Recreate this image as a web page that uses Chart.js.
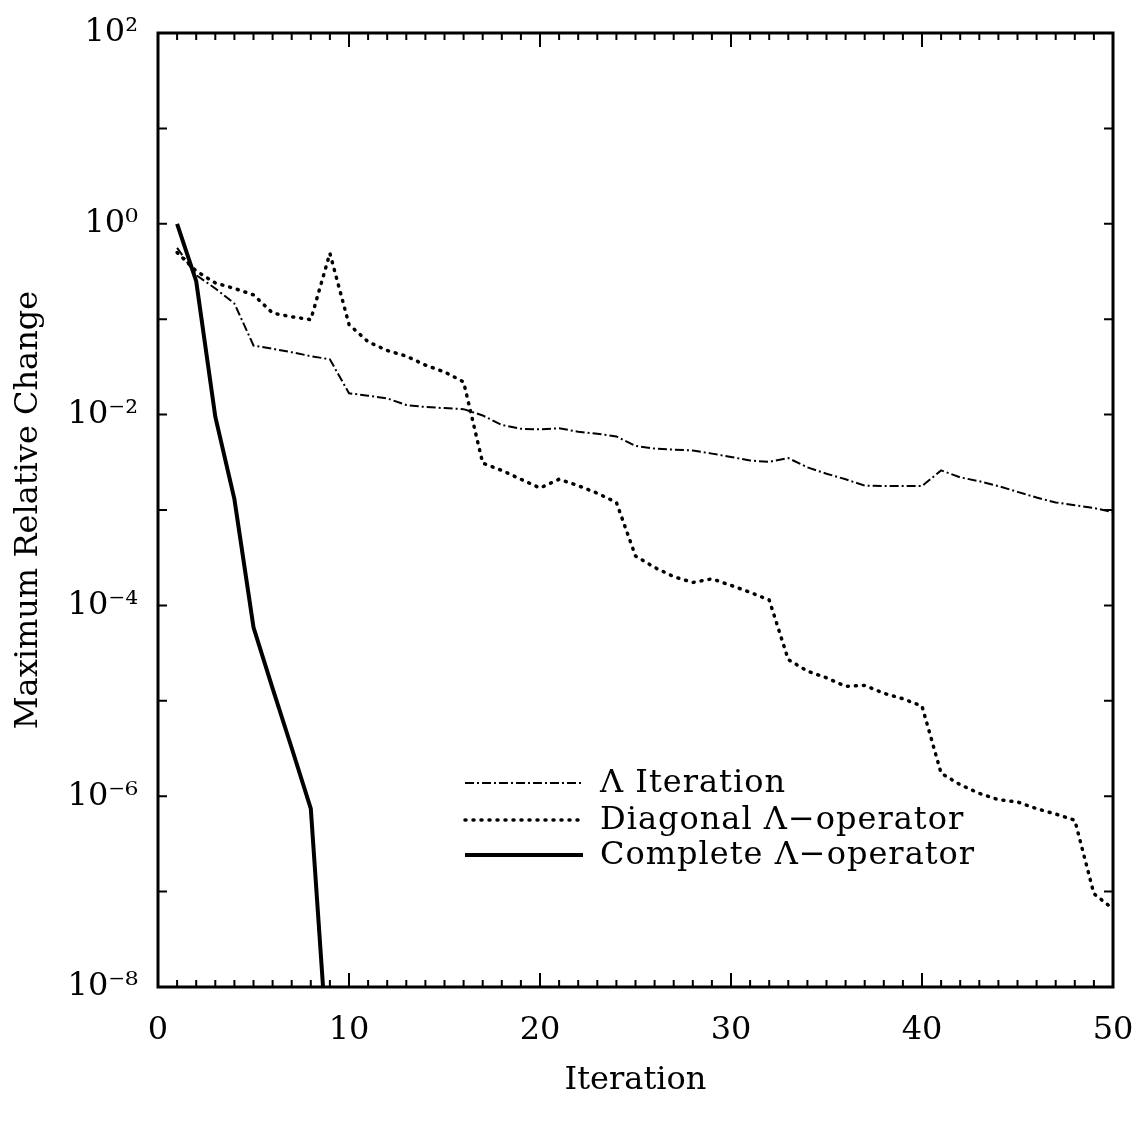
<!DOCTYPE html>
<html>
<head>
<meta charset="utf-8">
<script src="https://cdn.jsdelivr.net/npm/chart.js@4.4.1/dist/chart.umd.min.js"></script>
<style>
  html, body { margin: 0; padding: 0; background: #fff; }
  #wrap { width: 1139px; height: 1125px; position: relative; }
</style>
</head>
<body>
<div id="wrap"><canvas id="convChart"></canvas></div>
<script>
const iterations = [1, 2, 3, 4, 5, 6, 7, 8, 9, 10, 11, 12, 13, 14, 15, 16, 17, 18, 19, 20,
  21, 22, 23, 24, 25, 26, 27, 28, 29, 30, 31, 32, 33, 34, 35, 36, 37, 38, 39, 40,
  41, 42, 43, 44, 45, 46, 47, 48, 49, 50];

const lambdaIteration = [0.56, 0.29, 0.21, 0.146, 0.053, 0.049, 0.045, 0.041, 0.038, 0.0167,
  0.0158, 0.0148, 0.0126, 0.012, 0.0117, 0.0114, 0.0098, 0.0078, 0.0071, 0.0070,
  0.0072, 0.0066, 0.0063, 0.0059, 0.0047, 0.0044, 0.0043, 0.0042, 0.0039, 0.0036,
  0.0033, 0.0032, 0.0035, 0.0028, 0.0024, 0.0021, 0.0018, 0.00178, 0.00178, 0.00178,
  0.0026, 0.0022, 0.0020, 0.00178, 0.00155, 0.00135, 0.0012, 0.00112, 0.00105, 0.00095];

const diagonalOperator = [0.5, 0.32, 0.24, 0.21, 0.18, 0.116, 0.106, 0.099, 0.49, 0.088,
  0.058, 0.047, 0.041, 0.033, 0.028, 0.022, 0.0031, 0.0026, 0.0021, 0.0017,
  0.0021, 0.0018, 0.0015, 0.0012, 3.3e-4, 2.5e-4, 2.0e-4, 1.74e-4, 1.9e-4, 1.62e-4,
  1.37e-4, 1.14e-4, 2.7e-5, 2.05e-5, 1.74e-5, 1.42e-5, 1.45e-5, 1.2e-5, 1.05e-5, 8.8e-6,
  1.74e-6, 1.32e-6, 1.07e-6, 9.2e-7, 8.7e-7, 7.4e-7, 6.5e-7, 5.6e-7, 9.5e-8, 6.6e-8];

const completeIterations = [1, 2, 3, 4, 5, 6, 7, 8, 9];
const completeOperator = [1.0, 0.25, 0.0095, 0.0013, 5.9e-5, 1.35e-5, 3.2e-6, 7.4e-7, 9e-10];

const yTickValues = [1e-8, 1e-7, 1e-6, 1e-5, 1e-4, 1e-3, 1e-2, 1e-1, 1e0, 1e1, 1e2];
const yTickLabels = ['10⁻⁸', '', '10⁻⁶', '', '10⁻⁴', '', '10⁻²', '', '10⁰', '', '10²'];
const xTickLabels = [0, 10, 20, 30, 40, 50];

const serif = '"DejaVu Serif", "Liberation Serif", serif';

function pairs(xs, ys) {
  return xs.map((x, i) => ({ x: x, y: ys[i] }));
}

const frameAndLegend = {
  id: 'frameAndLegend',
  afterDraw(chart) {
    const ctx = chart.ctx;
    const a = chart.chartArea;
    const x = chart.scales.x;
    const y = chart.scales.y;
    ctx.save();
    ctx.strokeStyle = '#000';
    ctx.lineWidth = 2;
    ctx.setLineDash([]);

    // inward ticks on x (bottom + top)
    for (let v = 1; v < 50; v++) {
      const px = x.getPixelForValue(v);
      const len = v % 10 === 0 ? 14 : 7;
      ctx.beginPath();
      ctx.moveTo(px, a.bottom); ctx.lineTo(px, a.bottom - len);
      ctx.moveTo(px, a.top); ctx.lineTo(px, a.top + len);
      ctx.stroke();
    }
    // inward ticks on y (left + right)
    yTickValues.forEach(v => {
      const py = y.getPixelForValue(v);
      ctx.beginPath();
      ctx.moveTo(a.left, py); ctx.lineTo(a.left + 9, py);
      ctx.moveTo(a.right, py); ctx.lineTo(a.right - 9, py);
      ctx.stroke();
    });

    ctx.lineWidth = 3;
    ctx.strokeRect(a.left, a.top, a.right - a.left, a.bottom - a.top);

    // legend inside the plot
    const rows = [750, 787, 822];
    ctx.font = '32px ' + serif;
    ctx.fillStyle = '#000';
    ctx.textBaseline = 'middle';
    ctx.letterSpacing = '1px';
    chart.data.datasets.forEach((ds, i) => {
      const ly = a.top + rows[i];
      ctx.lineWidth = ds.borderWidth;
      ctx.lineCap = ds.borderCapStyle || 'butt';
      ctx.setLineDash(ds.borderDash || []);
      ctx.beginPath();
      ctx.moveTo(a.left + 307, ly);
      ctx.lineTo(a.left + 425, ly);
      ctx.stroke();
      ctx.setLineDash([]);
      ctx.fillText(ds.label, a.left + 442, ly + 1);
    });
    ctx.restore();
  }
};

new Chart(document.getElementById('convChart').getContext('2d'), {
  type: 'line',
  data: {
    datasets: [{
      label: 'Λ Iteration',
      data: pairs(iterations, lambdaIteration),
      borderColor: '#000',
      borderWidth: 2,
      borderDash: [9, 3, 2, 3],
      pointRadius: 0,
      tension: 0
    }, {
      label: 'Diagonal Λ−operator',
      data: pairs(iterations, diagonalOperator),
      borderColor: '#000',
      borderWidth: 3.5,
      borderDash: [1, 7],
      borderCapStyle: 'round',
      pointRadius: 0,
      tension: 0
    }, {
      label: 'Complete Λ−operator',
      data: pairs(completeIterations, completeOperator),
      borderColor: '#000',
      borderWidth: 4,
      pointRadius: 0,
      tension: 0
    }]
  },
  options: {
    responsive: true,
    maintainAspectRatio: false,
    animation: false,
    layout: { padding: { top: 33, right: 26, left: 0, bottom: 0 } },
    plugins: { legend: { display: false }, tooltip: { enabled: false } },
    scales: {
      x: {
        type: 'linear',
        min: 0,
        max: 50,
        grid: { display: false, drawTicks: false },
        border: { display: false },
        afterBuildTicks: s => { s.ticks = xTickLabels.map(v => ({ value: v })); },
        ticks: { color: '#000', font: { family: serif, size: 32 }, padding: 24, maxRotation: 0 },
        title: { display: true, text: 'Iteration', color: '#000', font: { family: serif, size: 32 }, padding: { top: 0, bottom: 25 } },
        afterFit: s => { s.height = 138; s.paddingLeft = 0; s.paddingRight = 0; }
      },
      y: {
        type: 'logarithmic',
        min: 1e-8,
        max: 1e2,
        grid: { display: false, drawTicks: false },
        border: { display: false },
        afterBuildTicks: s => { s.ticks = yTickValues.map(v => ({ value: v })); },
        ticks: {
          color: '#000',
          font: { family: serif, size: 32 },
          padding: 20,
          autoSkip: false,
          callback: (value, index) => yTickLabels[index]
        },
        title: { display: true, text: 'Maximum Relative Change', color: '#000', font: { family: serif, size: 32 }, padding: { top: 9, bottom: 0 } },
        afterFit: s => { s.width = 158; s.paddingTop = 0; s.paddingBottom = 0; }
      }
    }
  },
  plugins: [frameAndLegend]
});
</script>
</body>
</html>
